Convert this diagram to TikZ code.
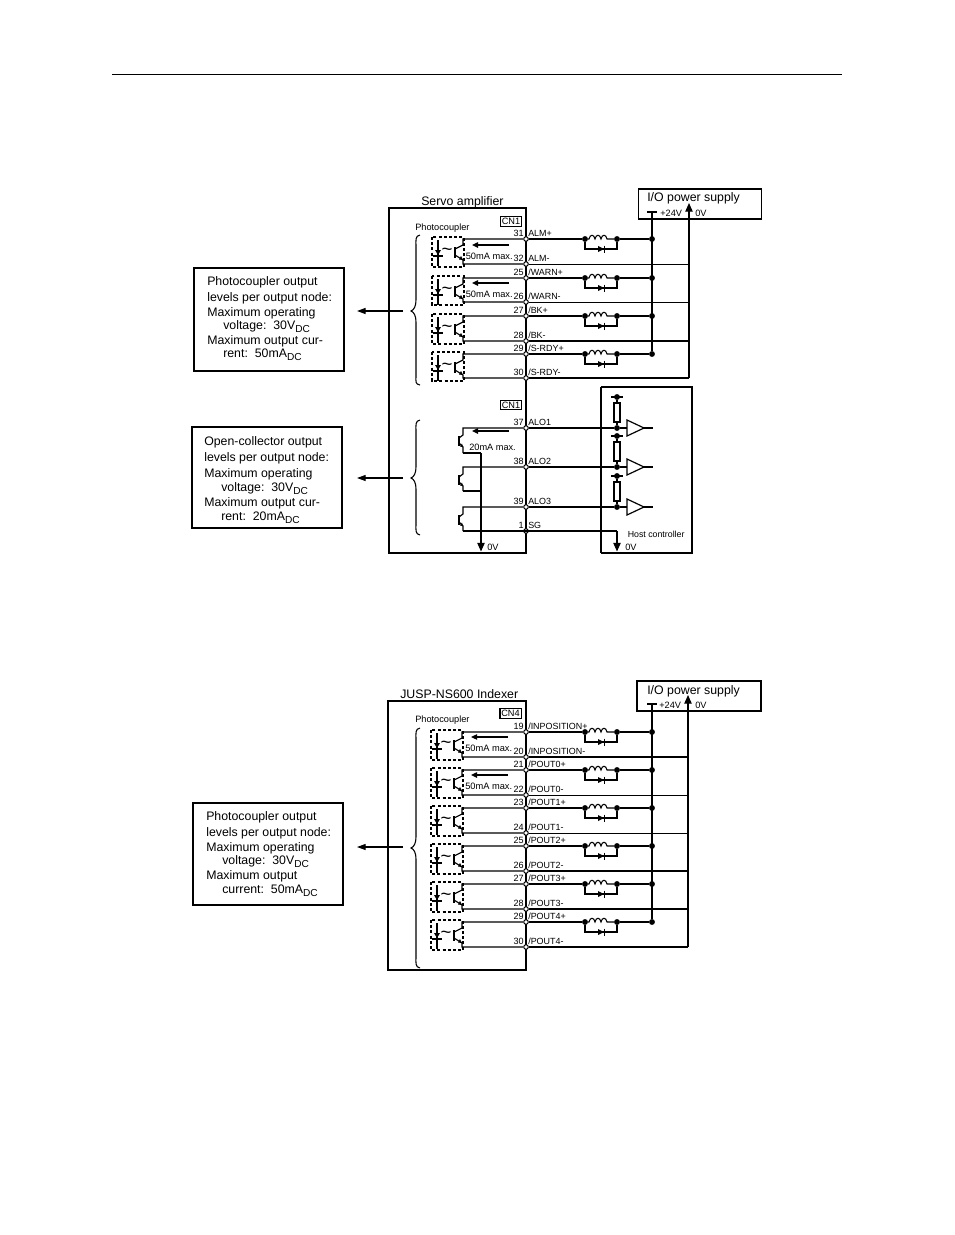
\documentclass[tikz,border=0pt]{standalone}
\usepackage{fontspec}
\setmainfont{Liberation Sans}
\usetikzlibrary{arrows.meta}
\tikzset{
 thinw/.style={line width=0.75pt},
 wire/.style={line width=0.85pt},
 heavy/.style={line width=1.3pt},
 casing/.style={draw,line width=1.3pt},
 panel/.style={draw,line width=0.9pt},
 term/.style={circle,draw,fill=white,line width=0.75pt,inner sep=0,minimum size=3.4pt},
 dot/.style={circle,fill=black,inner sep=0,minimum size=4.4pt},
 pinno/.style={font=\fontsize{6.8}{8}\selectfont,anchor=base east,inner sep=0,yshift=-2.2pt},
 pinlab/.style={font=\fontsize{6.7}{8}\selectfont,anchor=base west,inner sep=0,yshift=-2.2pt},
 small/.style={font=\fontsize{6.9}{8}\selectfont,anchor=base west,inner sep=0,yshift=-3pt},
 big/.style={font=\fontsize{9.25}{11}\selectfont,anchor=base west,inner sep=0,yshift=-3.2pt},
 cnbox/.style={font=\fontsize{6.9}{8}\selectfont,draw,line width=1pt,inner sep=0,minimum width=16pt,minimum height=7.2pt},
 maxi/.style={small,font=\fontsize{6.95}{8}\selectfont},
 flow/.style={line width=1pt,-{Triangle[length=4.5pt,width=4pt]}},
 callout/.style={line width=1pt,-{Triangle[length=6.5pt,width=4.5pt]}},
 down/.style={line width=1pt,-{Triangle[length=6.5pt,width=5.5pt]}},
 dashbox/.style={line width=1pt,dash pattern=on 2.3pt off 1.6pt},
}
\newcommand{\dcsub}[1]{#1\raisebox{-2.2pt}{\fontsize{7.6}{9}\selectfont DC}}
% name, y
\newcommand{\pinat}[4]{%
 \node[term] (#1) at (526,#2) {};
 \node[pinno] (#1n) at (524,#2-5) {#3};
 \node[pinlab] (#1l) at (528,#2-5) {#4};}
% name, x0, y+, y-, node+, node-
\newcommand{\coupler}[6]{%
 \draw[dashbox] (#2,#3-2) rectangle (#2+32,#4+3);
 \draw[line width=.9pt] (#2+6,#3+1) -- (#2+6,#3+27);
 \draw[line width=.9pt] (#2+1,#3+17) -- (#2+11,#3+17);
 \fill (#2+3,#3+11) -- (#2+9,#3+11) -- (#2+6,#3+16) -- cycle;
 \node[font=\fontsize{14}{14}\selectfont,inner sep=0] (#1s) at (#2+15,#3+13) {\char`\~};
 \draw[line width=1.1pt] (#2+23,#3+8) -- (#2+23,#3+19);
 \draw[wire] (#5) -- (#2+31,#3) -- (#2+31,#3+6) -- (#2+23,#3+10);
 \draw[wire] (#2+23,#3+16) -- (#2+31,#3+21) -- (#2+31,#4) -- (#6);
 \fill (#2+31,#3+21) -- (#2+27,#3+20.5) -- (#2+29,#3+17) -- cycle;}
% name, y, node+, wire style
\newcommand{\filter}[4]{%
 \node[dot] (#1a) at (585,#2) {};
 \node[dot] (#1b) at (617,#2) {};
 \node[dot] (#1c) at (652,#2) {};
 \draw[#4] (#3) -- (#1a);
 \draw[#4] (#1b) -- (#1c);
 \draw[line width=.8pt] (#1a) -- ++(4,0)
   .. controls +(1,-5) and +(-1,-5) .. ++(6,0)
   .. controls +(1,-5) and +(-1,-5) .. ++(6,0)
   .. controls +(1,-5) and +(-1,-5) .. ++(6,0)
   -- (#1b);
 \draw[line width=1pt] (#1a) -- (585,#2+10) -- (617,#2+10) -- (#1b);
 \fill (598,#2+7) -- (604,#2+10) -- (598,#2+13) -- cycle;
 \draw[line width=1pt] (604.5,#2+6.5) -- (604.5,#2+13.5);}
% name, collector y, emitter end coordinate y, node
\newcommand{\npn}[4]{%
 \draw[line width=1.1pt] (459,#2+8) -- (459,#2+18);
 \draw[wire] (#4) -- (463,#2) -- (463,#2+7) -- (459,#2+10);
 \draw[wire] (459,#2+15) -- (463,#2+19) -- (463,#3);
 \fill (463,#2+19) -- (460,#2+18.5) -- (462,#2+15.5) -- cycle;}
% name, y, node
\newcommand{\receiver}[3]{%
 \node[dot] (#1d) at (617,#2) {};
 \draw[line width=.9pt] (#1d) -- (627,#2);
 \draw[wire] (#3) -- (#1d);
 \draw[line width=.9pt] (627,#2-8) -- (644,#2) -- (627,#2+8) -- cycle;
 \draw[line width=.9pt] (644,#2) -- (653,#2);
 \node[dot] (#1t) at (617,#2-31) {};
 \draw[line width=1pt] (611,#2-31) -- (623,#2-31);
 \draw[line width=.9pt] (#1t) -- (617,#2-25);
 \draw[line width=.9pt] (614,#2-25) rectangle (620,#2-6);
 \draw[line width=.9pt] (617,#2-6) -- (#1d);}
\begin{document}
\begin{tikzpicture}[x=0.75pt,y=-0.75pt]
\useasboundingbox (0,0) rectangle (954,1235);
\fill[white] (0,0) rectangle (954,1235);
\draw[line width=.6pt] (112,74) -- (842,74);

%====================== Upper figure
\node[big] (title1) at (421,201) {Servo amplifier};
\draw[casing] (389,208) rectangle (526,553);
\node[small] (pc1) at (415,226) {Photocoupler};
\node[cnbox] (cn1a) at (511,221.5) {CN1};
\node[cnbox] (cn1b) at (511,405) {CN1};

% power supply
\draw[panel] (638.5,189) rectangle (761.5,219);
\node[big] (ps1) at (647,197) {I/O power supply};
\node[small] (ps1p) at (660,212) {+24V};
\node[small] (ps1z) at (695,212) {0V};

\pinat{a31}{239}{31}{ALM+}
\pinat{a32}{264}{32}{ALM-}
\pinat{a25}{278}{25}{/WARN+}
\pinat{a26}{302}{26}{/WARN-}
\pinat{a27}{316}{27}{/BK+}
\pinat{a28}{341}{28}{/BK-}
\pinat{a29}{354}{29}{/S-RDY+}
\pinat{a30}{378}{30}{/S-RDY-}

\coupler{ca}{432}{239}{264}{a31}{a32}
\coupler{cb}{432}{278}{302}{a25}{a26}
\coupler{cc}{432}{316}{341}{a27}{a28}
\coupler{cd}{432}{354}{378}{a29}{a30}

\draw[flow] (509,245) -- (472,245);
\draw[flow] (509,283) -- (472,283);
\node[maxi] (m1) at (465.5,255) {50mA max.};
\node[maxi] (m2) at (465.5,293) {50mA max.};

\filter{fa}{239}{a31}{wire}
\filter{fb}{278}{a25}{wire}
\filter{fc}{316}{a27}{heavy}
\filter{fd}{354}{a29}{wire}

\coordinate (t24a) at (652,212);
\draw[line width=1pt] (647,212) -- (657,212);
\draw[line width=1.2pt] (t24a) -- (fdc);
\coordinate (z1) at (689,203);
\coordinate (z1b) at (689,378);
\draw[down] (z1b) -- (z1);
\draw[thinw] (a32) -- (689,264);
\draw[thinw] (a26) -- (689,302);
\draw[heavy] (a28) -- (689,341);
\draw[wire] (a30) -- (z1b);

% second group
\draw[casing] (601,387) -- (601,553);
\draw[panel] (601,387) -- (692,387) -- (692,553) -- (601,553);
\pinat{a37}{428}{37}{ALO1}
\pinat{a38}{467}{38}{ALO2}
\pinat{a39}{507}{39}{ALO3}
\pinat{a1x}{531}{1}{SG}

\npn{qa}{428}{453}{a37}
\npn{qb}{467}{491}{a38}
\npn{qc}{507}{531}{a39}
\coordinate (gnd1) at (481,551.5);
\coordinate (gnd1t) at (481,453);
\draw[wire] (463,453) -- (gnd1t);
\draw[line width=1.1pt] (463,491) -- (481,491);
\draw[down] (gnd1t) -- (gnd1);
\draw[flow] (509,431) -- (472,431);
\node[small] (m3) at (469,446) {20mA max.};
\node[small] (g1) at (487,546.5) {0V};

\receiver{ra}{428}{a37}
\receiver{rb}{467}{a38}
\receiver{rc}{507}{a39}
\draw[heavy] (463,531) -- (526,531) -- (617,531);
\coordinate (gnd2) at (617,551.5);
\draw[down] (617,531) -- (gnd2);
\node[small] (g2) at (625,546.5) {0V};
\node[small,font=\fontsize{6.6}{8}\selectfont] (hc) at (627.5,533.5) {Host controller};

% braces
\draw[line width=.8pt] (420,235) .. controls (415,236) and (416,240) .. (416,246) -- (416,300) .. controls (416,306) and (414,310) .. (411,311)
  .. controls (414,312) and (416,316) .. (416,322) -- (416,376) .. controls (416,382) and (415,384) .. (420,385);
\draw[line width=.8pt] (420,420) .. controls (415,421) and (416,425) .. (416,431) -- (416,467) .. controls (416,473) and (414,477) .. (411,478)
  .. controls (414,479) and (416,483) .. (416,489) -- (416,524) .. controls (416,530) and (415,534) .. (420,535);

% callouts
\node[draw,line width=1pt,minimum width=112.5pt,minimum height=77.25pt,inner sep=0] (bx1) at (269,319.5) {};
\node[draw,line width=.9pt,minimum width=112.5pt,minimum height=75.75pt,inner sep=0] (bx2) at (267,477.5) {};
\draw[callout] (403,311) -- (357,311);
\draw[callout,line width=.8pt] (403,478) -- (357,478);

\node[big] (t11) at (207,281) {Photocoupler output};
\node[big] (t12) at (207,297) {levels per output node:};
\node[big] (t13) at (207,312) {Maximum operating};
\node[big] (t14) at (223,325) {\dcsub{voltage:\ \ 30V}};
\node[big] (t15) at (207,340) {Maximum output cur-};
\node[big] (t16) at (223,353) {\dcsub{rent:\ \ 50mA}};

\node[big] (t21) at (204,441) {Open-collector output};
\node[big] (t22) at (204,457) {levels per output node:};
\node[big] (t23) at (204,473) {Maximum operating};
\node[big] (t24) at (221,487) {\dcsub{voltage:\ \ 30V}};
\node[big] (t25) at (204,502) {Maximum output cur-};
\node[big] (t26) at (221,516) {\dcsub{rent:\ \ 20mA}};

%====================== Lower figure
\node[big] (title2) at (400,694) {JUSP-NS600 Indexer};
\draw[casing] (388,701) rectangle (526,970);
\node[small] (pc2) at (415,718) {Photocoupler};
\node[cnbox] (cn4) at (510.5,713.5) {CN4};

\draw[line width=1pt] (637,681) rectangle (761,711);
\node[big] (ps2) at (647,690) {I/O power supply};
\node[small] (ps2p) at (659,704) {+24V};
\node[small] (ps2z) at (695,704) {0V};

\pinat{b19}{732}{19}{/INPOSITION+}
\pinat{b20}{757}{20}{/INPOSITION-}
\pinat{b21}{770}{21}{/POUT0+}
\pinat{b22}{795}{22}{/POUT0-}
\pinat{b23}{808}{23}{/POUT1+}
\pinat{b24}{833}{24}{/POUT1-}
\pinat{b25}{846}{25}{/POUT2+}
\pinat{b26}{871}{26}{/POUT2-}
\pinat{b27}{884}{27}{/POUT3+}
\pinat{b28}{909}{28}{/POUT3-}
\pinat{b29}{922}{29}{/POUT4+}
\pinat{b30}{947}{30}{/POUT4-}

\coupler{da}{431}{732}{757}{b19}{b20}
\coupler{db}{431}{770}{795}{b21}{b22}
\coupler{dc}{431}{808}{833}{b23}{b24}
\coupler{dd}{431}{846}{871}{b25}{b26}
\coupler{de}{431}{884}{909}{b27}{b28}
\coupler{df}{431}{922}{947}{b29}{b30}

\draw[flow,line width=.8pt] (508,737) -- (471,737);
\draw[flow] (508,775) -- (471,775);
\node[maxi] (m4) at (465,747.5) {50mA max.};
\node[maxi] (m5) at (465,785) {50mA max.};

\filter{ga}{732}{b19}{wire}
\filter{gb}{770}{b21}{wire}
\filter{gc}{808}{b23}{wire}
\filter{gd}{846}{b25}{wire}
\filter{ge}{884}{b27}{wire}
\filter{gf}{922}{b29}{wire}

\coordinate (t24b) at (652,704);
\draw[line width=1.2pt] (647,704) -- (657,704);
\draw[line width=1.2pt] (t24b) -- (gfc);
\coordinate (z2) at (688,695);
\coordinate (z2b) at (688,947);
\draw[down] (z2b) -- (z2);
\draw[heavy] (b20) -- (688,757);
\draw[thinw] (b22) -- (688,795);
\draw[thinw] (b24) -- (688,833);
\draw[heavy] (b26) -- (688,871);
\draw[heavy] (b28) -- (688,909);
\draw[wire] (b30) -- (z2b);

\draw[line width=.8pt] (420,728) .. controls (415,729) and (416,733) .. (416,739) -- (416,837) .. controls (416,843) and (414,847) .. (411,848)
  .. controls (414,849) and (416,853) .. (416,859) -- (416,957) .. controls (416,963) and (415,967) .. (420,968);

\node[draw,line width=1pt,minimum width=112.5pt,minimum height=76.5pt,inner sep=0] (bx3) at (268,854) {};
\draw[callout,line width=.8pt] (403,847) -- (357,847);

\node[big] (t31) at (206,816) {Photocoupler output};
\node[big] (t32) at (206,832) {levels per output node:};
\node[big] (t33) at (206,847) {Maximum operating};
\node[big] (t34) at (222,860) {\dcsub{voltage:\ \ 30V}};
\node[big] (t35) at (206,875) {Maximum output};
\node[big] (t36) at (222,889) {\dcsub{current:\ \ 50mA}};
\end{tikzpicture}
\end{document}
